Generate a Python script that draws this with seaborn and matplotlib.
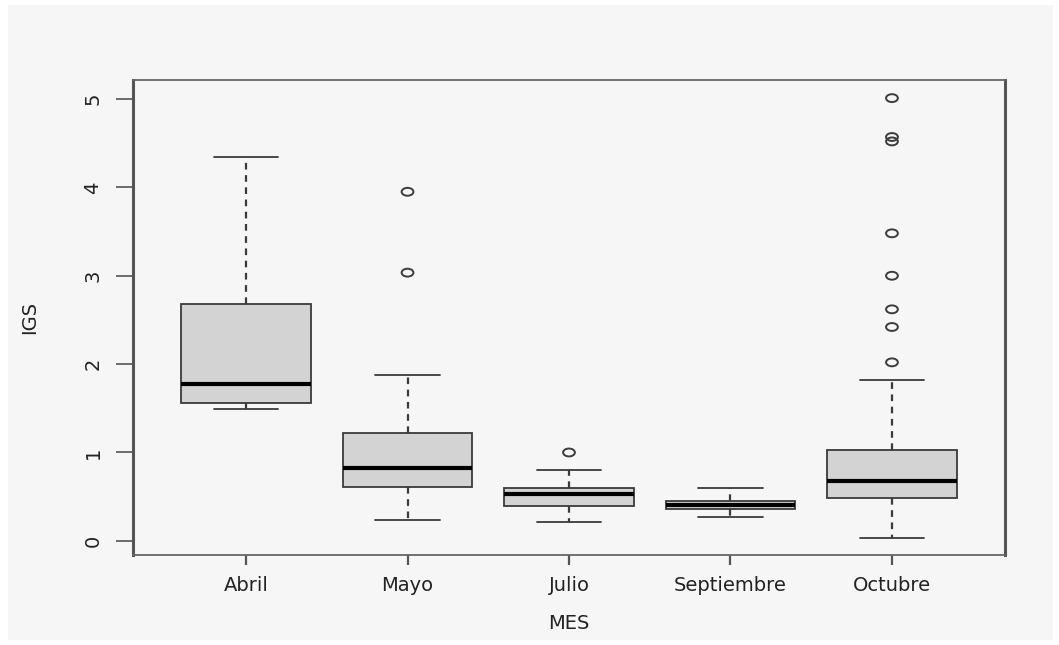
import numpy as np
import pandas as pd
import matplotlib
matplotlib.use("Agg")
import matplotlib.pyplot as plt
from matplotlib.path import Path
from matplotlib.transforms import Affine2D
from matplotlib.patches import Rectangle
import seaborn as sns

# ---- data ----
months = ["Abril", "Mayo", "Julio", "Septiembre", "Octubre"]
whisker_low = [1.49, 0.24, 0.215, 0.27, 0.03]
q1 = [1.565, 0.61, 0.39, 0.36, 0.49]
median = [1.78, 0.82, 0.53, 0.41, 0.675]
q3 = [2.68, 1.225, 0.60, 0.456, 1.03]
whisker_high = [4.34, 1.875, 0.80, 0.60, 1.82]
outliers_abril = []
outliers_mayo = [3.95, 3.035]
outliers_julio = [1.00]
outliers_septiembre = []
outliers_octubre = [5.01, 4.57, 4.52, 3.48, 3.00, 2.62, 2.42, 2.02]
y_ticks = [0, 1, 2, 3, 4, 5]

# five-number table (box + whiskers)
rows = []
for i, m in enumerate(months):
    for v in (whisker_low[i], q1[i], median[i], q3[i], whisker_high[i]):
        rows.append({"MES": m, "IGS": v})
box_df = pd.DataFrame(rows)

out_lists = [outliers_abril, outliers_mayo, outliers_julio,
             outliers_septiembre, outliers_octubre]
out_rows = [{"MES": m, "IGS": v} for m, lst in zip(months, out_lists) for v in lst]
out_df = pd.DataFrame(out_rows)

# ---- figure ----
sns.set_theme(style="white")
plt.rcParams["font.family"] = ["DejaVu Sans"]

W, H = 1059, 645
fig = plt.figure(figsize=(W / 100, H / 100), dpi=100, facecolor="white")
bg = Rectangle((8 / W, 1 - 640 / H), (1053 - 8) / W, (640 - 5) / H,
               transform=fig.transFigure, facecolor="#f6f6f6",
               edgecolor="none", zorder=-10)
fig.patches.append(bg)
ax = fig.add_axes([133 / W, 1 - 555 / H, (1005 - 133) / W, (555 - 80) / H])
ax.set_zorder(1)
ax.set_facecolor("#f6f6f6")

line_col = "#3a3a3a"
sns.boxplot(data=box_df, x="MES", y="IGS", order=months, ax=ax,
            color="#d3d3d3", saturation=1, width=0.8, whis=(0, 100),
            linecolor=line_col, linewidth=1.3, fliersize=0,
            medianprops=dict(color="black", linewidth=3),
            whiskerprops=dict(linestyle=(0, (3, 2.5)), linewidth=1.6, color=line_col),
            capprops=dict(linewidth=1.3, color=line_col),
            boxprops=dict(edgecolor=line_col, linewidth=1.3))

# hollow, slightly wide circle markers like the reference
ell = Path.unit_circle().transformed(Affine2D().scale(1.5, 1.0))
sns.stripplot(data=out_df, x="MES", y="IGS", order=months, ax=ax,
              jitter=False, marker=ell, size=8.5, color="#444444", linewidth=1.4,
              edgecolor="#444444")
for coll in ax.collections:
    coll.set_facecolor("none")
    coll.set_edgecolor("#3c3c3c")
    coll.set_linewidth(1.4)

ax.set_xlim(-0.7, 4.7)
ax.set_ylim(-0.16, 5.215)
ax.set_yticks(y_ticks)
ax.set_yticklabels([str(t) for t in y_ticks], rotation=90, va="center")

txt_col = "#222222"
ax.tick_params(axis="y", left=True, length=12, width=1.2, color="#555555",
               pad=10, labelsize=14, labelcolor=txt_col)
ax.tick_params(axis="x", bottom=True, length=7, width=1.6, color="#555555",
               pad=8, labelsize=14, labelcolor=txt_col)
ax.set_xlabel("MES", fontsize=14, color=txt_col, labelpad=14)
ax.set_ylabel("IGS", fontsize=14, color=txt_col, labelpad=32)

for side in ["top", "bottom"]:
    ax.spines[side].set_color("#666666")
    ax.spines[side].set_linewidth(1.3)
for side in ["left", "right"]:
    ax.spines[side].set_color("#555555")
    ax.spines[side].set_linewidth(2.2)
    ax.spines[side].set_visible(True)

fig.savefig("out.png", dpi=100, facecolor="white")
